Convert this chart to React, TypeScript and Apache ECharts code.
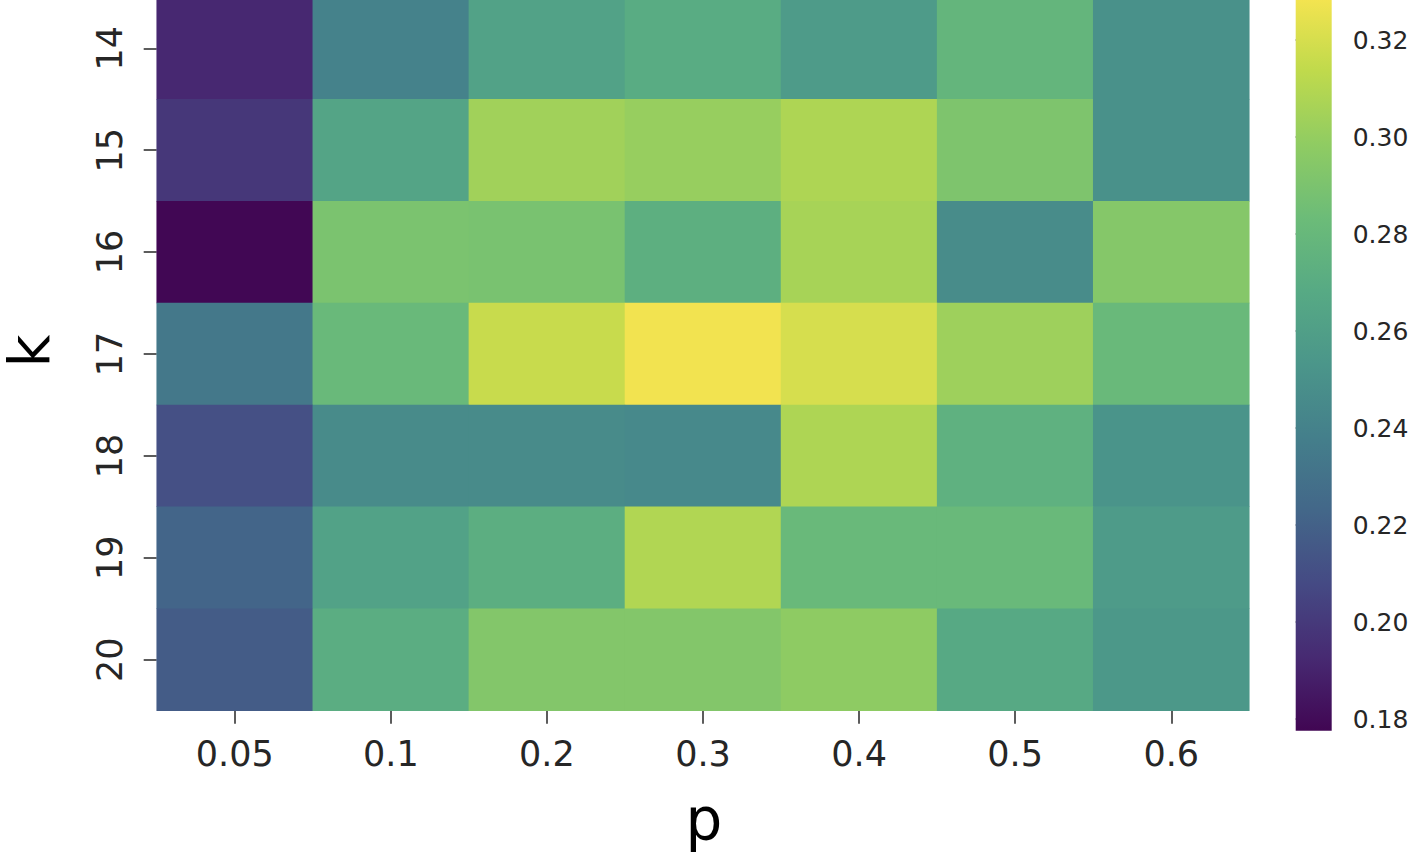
import React, { useEffect, useRef } from "react";
import * as echarts from "echarts";

const pLabels = ["0.05", "0.1", "0.2", "0.3", "0.4", "0.5", "0.6"];
const kLabels = ["14", "15", "16", "17", "18", "19", "20"];

const k14 = [0.192, 0.24, 0.262, 0.27, 0.257, 0.278, 0.25];
const k15 = [0.199, 0.264, 0.304, 0.301, 0.308, 0.291, 0.25];
const k16 = [0.178, 0.29, 0.289, 0.273, 0.306, 0.247, 0.294];
const k17 = [0.234, 0.281, 0.316, 0.328, 0.32, 0.303, 0.281];
const k18 = [0.211, 0.246, 0.246, 0.245, 0.308, 0.274, 0.252];
const k19 = [0.222, 0.262, 0.272, 0.309, 0.281, 0.281, 0.257];
const k20 = [0.217, 0.271, 0.293, 0.293, 0.298, 0.268, 0.255];
const rows = [k14, k15, k16, k17, k18, k19, k20];

const cbarTicks = [0.18, 0.2, 0.22, 0.24, 0.26, 0.28, 0.3, 0.32];
const vMin = 0.1776;
const vMax = 0.3289;

// viridis as it appears (slightly washed) in the reference
const palette = [
  "#410653", "#472a72", "#454a84", "#436789", "#447f8b", "#4b968a",
  "#57aa84", "#6cbc78", "#90cc62", "#c0da4c", "#f5e450",
];

const FONT = "DejaVu Sans";
const TXT = "#262626";

export default function App() {
  const ref = useRef<HTMLDivElement>(null);
  useEffect(() => {
    if (!ref.current) return;
    const chart = echarts.init(ref.current, null, { renderer: "svg" });
    const data: number[][] = [];
    rows.forEach((row, r) => row.forEach((v, c) => data.push([c, r, v])));
    const stops = palette.map((c, i) => ({ offset: i / (palette.length - 1), color: c }));

    chart.setOption({
      animation: false,
      backgroundColor: "#ffffff",
      textStyle: { fontFamily: FONT },
      grid: [
        { left: 156.7, top: -2.7, width: 1092.6, height: 713.4, outerBoundsMode: "none", containLabel: false },
        { left: 1295.7, top: -3, width: 36, height: 733.7, outerBoundsMode: "none", containLabel: false },
      ],
      xAxis: [
        {
          type: "category",
          gridIndex: 0,
          data: pLabels,
          axisLine: { show: false },
          axisTick: { show: true, alignWithLabel: true, length: 13, lineStyle: { color: TXT, width: 1.5 } },
          axisLabel: { fontSize: 35, color: TXT, margin: 26, fontFamily: FONT },
          splitLine: { show: false },
        },
        { type: "value", gridIndex: 1, min: 0, max: 1, show: false },
      ],
      yAxis: [
        {
          type: "category",
          gridIndex: 0,
          data: kLabels,
          inverse: true,
          axisLine: { show: false },
          axisTick: { show: true, alignWithLabel: true, length: 13, lineStyle: { color: TXT, width: 1.5 } },
          axisLabel: { fontSize: 35, color: TXT, margin: 29, rotate: 90, fontFamily: FONT },
          splitLine: { show: false },
        },
        {
          type: "value",
          gridIndex: 1,
          min: vMin,
          max: vMax,
          position: "right",
          axisLine: { show: false },
          axisTick: { show: true, length: 10, customValues: cbarTicks, lineStyle: { color: TXT, width: 1.5 } },
          axisLabel: {
            fontSize: 25,
            color: TXT,
            margin: 21,
            fontFamily: FONT,
            customValues: cbarTicks,
            formatter: (v: number) => v.toFixed(2),
          },
          splitLine: { show: false },
        },
      ],
      visualMap: {
        show: false,
        type: "continuous",
        min: vMin,
        max: vMax,
        seriesIndex: 0,
        inRange: { color: palette },
      },
      series: [
        {
          type: "heatmap",
          xAxisIndex: 0,
          yAxisIndex: 0,
          data,
          itemStyle: { borderWidth: 0 },
          emphasis: { disabled: true },
        },
        {
          type: "custom",
          xAxisIndex: 1,
          yAxisIndex: 1,
          data: [[0, vMin, 1, vMax]],
          renderItem: (params: any, api: any) => {
            const p0 = api.coord([0, vMin]);
            const p1 = api.coord([1, vMax]);
            return {
              type: "rect",
              shape: { x: p0[0], y: p1[1], width: p1[0] - p0[0], height: p0[1] - p1[1] },
              style: { fill: new echarts.graphic.LinearGradient(0, 1, 0, 0, stops) },
            };
          },
        },
      ],
      graphic: [
        {
          type: "text",
          x: 704,
          y: 820,
          style: { text: "p", fontSize: 58, lineHeight: 58, fontFamily: FONT, fill: "#000", align: "center", verticalAlign: "middle" },
        },
        {
          type: "text",
          x: 29,
          y: 351,
          rotation: Math.PI / 2,
          style: { text: "k", fontSize: 57, lineHeight: 44, fontFamily: FONT, fill: "#000", align: "center", verticalAlign: "middle" },
        },
      ],
    });
    return () => chart.dispose();
  }, []);
  return (
    <div
      ref={ref}
      style={{ position: "absolute", left: 0, top: 0, width: 1418, height: 854 }}
    />
  );
}
